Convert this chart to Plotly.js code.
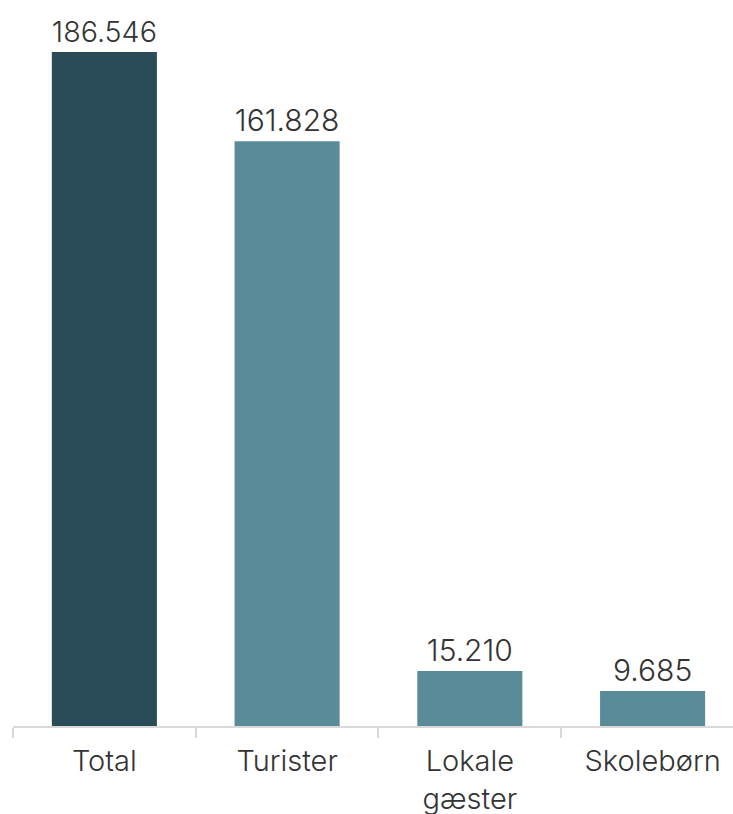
<!DOCTYPE html>
<html>
<head>
<meta charset="utf-8">
<script src="https://cdn.plot.ly/plotly-3.0.1.min.js"></script>
<style>html,body{margin:0;padding:0;background:#fff;overflow:hidden;}</style>
</head>
<body>
<div id="chart" style="width:733px;height:814px;"></div>
<script>
const categories = ["Total", "Turister", "Lokale<br>gæster", "Skolebørn"];
const values = [186546, 161828, 15210, 9685];
const barColors = ["#2a4c58", "#5a8b99", "#5a8b99", "#5a8b99"];

const trace = {
  type: "bar",
  x: categories,
  y: values,
  marker: {color: barColors},
  width: 0.575,
  texttemplate: "%{y:,}",
  textposition: "outside",
  cliponaxis: false,
  textfont: {family: "Inter, sans-serif", size: 30, weight: 300, color: "#333333"},
  hoverinfo: "none"
};

const layout = {
  width: 733,
  height: 814,
  margin: {l: 13, r: 0, t: 10, b: 88},
  paper_bgcolor: "#ffffff",
  plot_bgcolor: "#ffffff",
  separators: ",.",
  showlegend: false,
  font: {family: "Inter, sans-serif", weight: 300, color: "#333333"},
  xaxis: {
    type: "category",
    range: [-0.5, 3.44],
    showline: true,
    linecolor: "#d9d9d9",
    linewidth: 2,
    ticks: "outside",
    tickson: "boundaries",
    ticklen: 10,
    tickcolor: "#d9d9d9",
    tickwidth: 2,
    ticklabelstandoff: 8,
    tickfont: {family: "Inter, sans-serif", size: 29, weight: 300, color: "#333333"},
    showgrid: false,
    zeroline: false,
    fixedrange: true
  },
  yaxis: {
    range: [0, 198170],
    visible: false,
    showgrid: false,
    zeroline: false,
    fixedrange: true
  }
};

Plotly.newPlot("chart", [trace], layout, {displayModeBar: false, staticPlot: true});
</script>
</body>
</html>
